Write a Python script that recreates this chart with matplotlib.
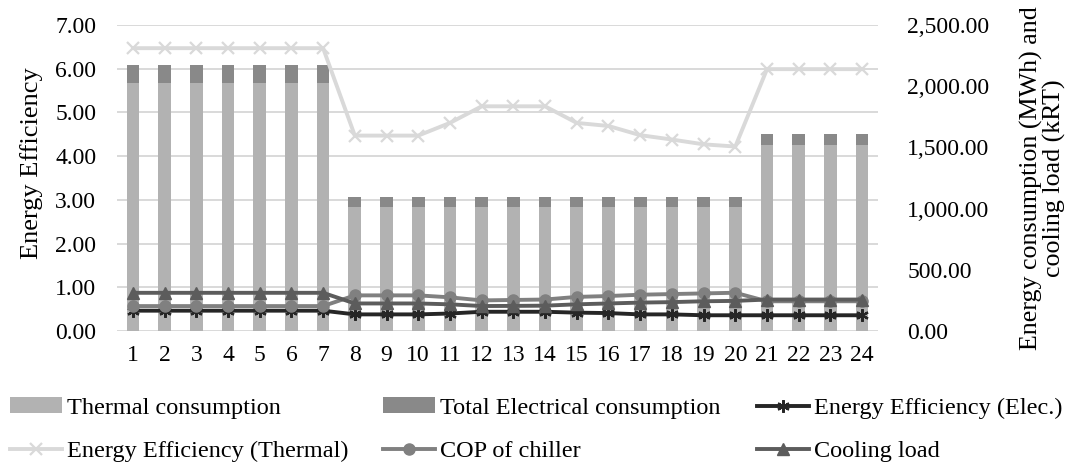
import matplotlib
matplotlib.use("Agg")
import matplotlib.pyplot as plt
from matplotlib.patches import Patch
from matplotlib.lines import Line2D

plt.rcParams['font.family'] = ['Liberation Serif', 'DejaVu Serif']

hours = list(range(1, 25))
thermal_mwh = [2027]*7 + [1016]*13 + [1520]*4
elec_mwh = [147]*7 + [81]*13 + [90]*4
eff_elec = [0.465]*7 + [0.38, 0.38, 0.38, 0.40, 0.44, 0.44, 0.44, 0.42, 0.41, 0.38, 0.38, 0.36, 0.36] + [0.36]*4
eff_thermal = [6.47]*7 + [4.47, 4.47, 4.47, 4.76, 5.14, 5.14, 5.14, 4.76, 4.69, 4.48, 4.38, 4.27, 4.22] + [5.99]*4
cop_chiller = [0.57]*7 + [0.815, 0.815, 0.815, 0.77, 0.70, 0.71, 0.72, 0.78, 0.80, 0.83, 0.845, 0.86, 0.875] + [0.68]*4
cooling_krt = [312]*7 + [225, 225, 225, 218, 204, 205, 207, 218, 225, 232, 236, 243, 246] + [257]*4

left_ticks = [0, 1, 2, 3, 4, 5, 6, 7]
right_ticks = [0, 500, 1000, 1500, 2000, 2500]

C_TH = '#b2b2b2'
C_EL = '#898989'
C_EE = '#262626'
C_ET = '#d9d9d9'
C_COP = '#808080'
C_CL = '#5c5c5c'
GRID = '#d9d9d9'
TICK_FS = 17

fig = plt.figure(figsize=(10.76, 4.67), dpi=100)
rect = [117/1076, 1-331/467, 761/1076, 306/467]
ax = fig.add_axes(rect)
ax.set_xlim(0.5, 24.5)
ax.set_ylim(0, 7)
ax.set_yticks(left_ticks)
ax.set_yticklabels([f"{v:.2f}" for v in left_ticks])
ax.set_xticks(hours)
ax.set_xticklabels([str(h) for h in hours])
ax.grid(axis='y', color=GRID, lw=1.4)
ax.tick_params(axis='both', length=0, labelsize=TICK_FS, colors='#000000')
ax.tick_params(axis='y', pad=15)
ax.tick_params(axis='x', pad=10)
for s in ax.spines.values():
    s.set_visible(False)
ax.set_ylabel('Energy Efficiency', fontsize=19)
ax.yaxis.set_label_coords(-0.097, 0.55)

axb = ax.twinx()
axb.set_ylim(0, 2500)
axb.set_yticks(right_ticks)
axb.set_yticklabels([f"{v:,.2f}" for v in right_ticks])
axb.tick_params(axis='y', length=0, labelsize=TICK_FS, pad=21)
for s in axb.spines.values():
    s.set_visible(False)
axb.bar(hours, thermal_mwh, width=0.4, color=C_TH, zorder=2)
axb.bar(hours, elec_mwh, width=0.4, bottom=thermal_mwh, color=C_EL, zorder=2)
axb.set_ylabel('Energy consumption (MWh) and\ncooling load (kRT)', fontsize=18.7,
               linespacing=0.95, rotation=90)
axb.yaxis.set_label_coords(1.187, 0.5)

axl = ax.twinx()
axl.set_ylim(0, 7)
axl.axis('off')
axl.plot(hours, eff_thermal, color=C_ET, lw=2.8, marker='x', ms=8, mew=1.6, zorder=3)
axl.plot(hours, eff_elec, color=C_EE, lw=2.8, marker=(6, 2, 0), ms=9, mew=1.6, zorder=4)
axl.plot(hours, cop_chiller, color=C_COP, lw=2.8, marker='o', ms=8, zorder=5)

axc = ax.twinx()
axc.set_ylim(0, 2500)
axc.axis('off')
axc.plot(hours, cooling_krt, color=C_CL, lw=2.8, marker='^', ms=8, zorder=6)

entries = [
    (Patch(facecolor=C_TH), 'Thermal consumption', 10, 408),
    (Patch(facecolor=C_EL), 'Total Electrical consumption', 383, 408),
    (Line2D([], [], color=C_EE, lw=2.8, marker=(6, 2, 0), ms=9, mew=1.6), 'Energy Efficiency (Elec.)', 757, 408),
    (Line2D([], [], color=C_ET, lw=2.8, marker='x', ms=8, mew=1.6), 'Energy Efficiency (Thermal)', 10, 451),
    (Line2D([], [], color=C_COP, lw=2.8, marker='o', ms=8), 'COP of chiller', 383, 451),
    (Line2D([], [], color=C_CL, lw=2.8, marker='^', ms=8), 'Cooling load', 757, 451),
]
for h, lab, x, y in entries:
    fig.legend([h], [lab], loc='center left', bbox_to_anchor=(x/1076, 1-y/467),
               frameon=False, fontsize=17.5, borderpad=0, borderaxespad=0,
               handlelength=2.15, handleheight=0.6, handletextpad=0.2)

fig.savefig('out.png', dpi=100)
